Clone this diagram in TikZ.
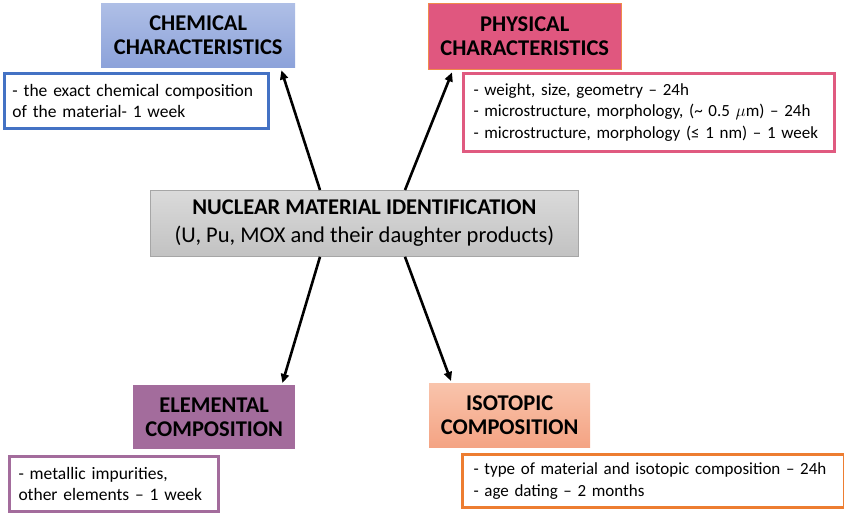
\documentclass[tikz,border=0pt]{standalone}
\usepackage{fontspec}
\setmainfont{Carlito}
\usepackage{xcolor}
\usetikzlibrary{arrows.meta}

% =======================================================
% Colour definitions
% =======================================================
\definecolor{chemtop}{HTML}{AFBFE6}
\definecolor{chembot}{HTML}{8CA2DA}
\definecolor{chemline}{HTML}{4472C4}
\definecolor{physfill}{HTML}{E0577F}
\definecolor{physedge}{HTML}{F08A4B}
\definecolor{physline}{HTML}{E05A80}
\definecolor{elemfill}{HTML}{A36C9C}
\definecolor{isotop}{HTML}{F9C4AC}
\definecolor{isobot}{HTML}{F4A383}
\definecolor{isoline}{HTML}{ED7D31}
\definecolor{midtop}{HTML}{DADADA}
\definecolor{midbot}{HTML}{C2C2C2}
\definecolor{midline}{HTML}{A6A6A6}

\tikzset{
  titlebox/.style = {anchor=north west, inner sep=0pt, align=center,
                     font=\fontsize{22.5}{24}\selectfont\bfseries},
  infobox/.style  = {anchor=north west, inner sep=0pt, line width=3pt,
                     fill=white, align=left, text width=#1, minimum width=#1},
  bigtext/.style  = {font=\fontsize{17.5}{21}\selectfont},
  smalltext/.style= {font=\fontsize{17}{21.5}\selectfont},
  link/.style     = {line width=2.6pt, -{Triangle[length=9pt,width=8pt]}},
}

\begin{document}
\begin{tikzpicture}[x=1pt, y=-1pt]

\useasboundingbox (0,0) rectangle (844,516);

% =======================================================
% Centre node
% =======================================================
\node[anchor=north west, inner sep=0pt, draw=midline, thick,
      top color=midtop, bottom color=midbot,
      minimum width=428pt, minimum height=66pt, align=center,
      font=\fontsize{22.5}{28}\selectfont]
    (nmi) at (150,190)
    {\textbf{NUCLEAR MATERIAL IDENTIFICATION}\\
     (U, Pu, MOX and their daughter products)};

% =======================================================
% Chemical characteristics
% =======================================================
\node[titlebox, top color=chemtop, bottom color=chembot,
      minimum width=194pt, minimum height=64pt]
    (chem) at (101,3)
    {CHEMICAL\\CHARACTERISTICS};

\node[infobox=264pt, bigtext, draw=chemline, minimum height=55pt]
    (chemtxt) at (3,72)
    {\hspace*{8pt}- the exact chemical composition\\
     \hspace*{8pt}of the material- 1 week};

% =======================================================
% Physical characteristics
% =======================================================
\node[titlebox, fill=physfill, draw=physedge, thin,
      minimum width=193pt, minimum height=66pt]
    (phys) at (428,3)
    {PHYSICAL\\CHARACTERISTICS};

\node[infobox=371pt, smalltext, draw=physline, minimum height=78pt]
    (physxt) at (462,72)
    {\hspace*{10pt}- weight, size, geometry -- 24h\\
     \hspace*{10pt}- microstructure, morphology, (\textasciitilde{} 0.5 $\mu$m) -- 24h\\
     \hspace*{10pt}- microstructure, morphology (≤ 1 nm) -- 1 week};

% =======================================================
% Elemental composition
% =======================================================
\node[titlebox, fill=elemfill,
      minimum width=162pt, minimum height=64pt]
    (elem) at (133,385)
    {ELEMENTAL\\COMPOSITION};

\node[infobox=209pt, bigtext, draw=elemfill, minimum height=55pt]
    (elemtxt) at (8,455)
    {\hspace*{9pt}- metallic impurities,\\
     \hspace*{9pt}other elements -- 1 week};

% =======================================================
% Isotopic composition
% =======================================================
\node[titlebox, top color=isotop, bottom color=isobot,
      minimum width=161pt, minimum height=64pt]
    (iso) at (429,383)
    {ISOTOPIC\\COMPOSITION};

\node[infobox=382pt, smalltext, draw=isoline, minimum height=53pt]
    (isotxt) at (461,453)
    {\hspace*{11pt}- type of material and isotopic composition -- 24h\\
     \hspace*{11pt}- age dating -- 2 months};

% =======================================================
% Arrows from the centre
% =======================================================
\draw[link] ([xshift=170pt]nmi.north west) -- ([xshift=-14pt,yshift=-3pt]chem.south east);
\draw[link] ([xshift=255pt]nmi.north west) -- ([xshift=24pt,yshift=-3pt]phys.south west);
\draw[link] ([xshift=170pt]nmi.south west) -- ([xshift=-13pt,yshift=2pt]elem.north east);
\draw[link] ([xshift=255pt]nmi.south west) -- ([xshift=22pt,yshift=2pt]iso.north west);

\end{tikzpicture}
\end{document}
